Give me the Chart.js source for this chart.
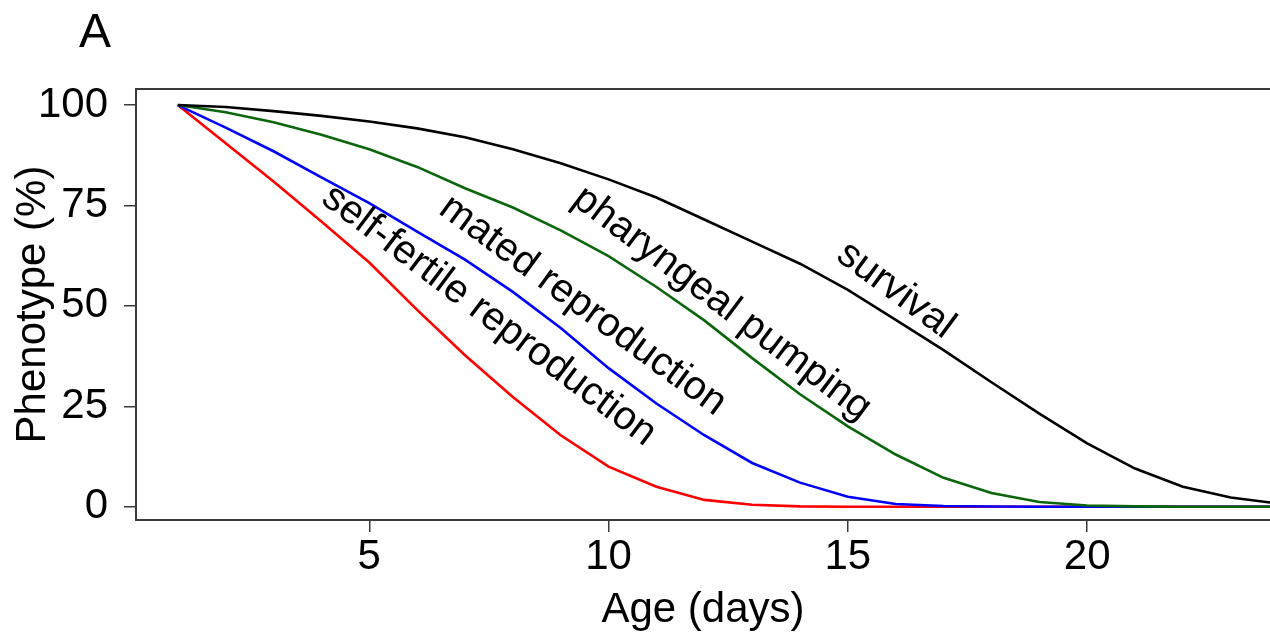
<!DOCTYPE html>
<html>
<head>
<meta charset="utf-8">
<script src="https://cdn.jsdelivr.net/npm/chart.js@4.4.1/dist/chart.umd.min.js"></script>
<style>
  html, body { margin: 0; padding: 0; background: #ffffff; }
  #wrap { width: 1270px; height: 636px; position: relative; }
</style>
</head>
<body>
<div id="wrap"><canvas id="c" width="1270" height="636"></canvas></div>
<script>
// ---- data ----
const days = [1,2,3,4,5,6,7,8,9,10,11,12,13,14,15,16,17,18,19,20,21,22,23,24];
const survival     = [100, 99.5, 98.5, 97.3, 95.9, 94.2, 92.0, 89.0, 85.5, 81.5, 77.0, 71.5, 66.0, 60.5, 54.0, 46.5, 39.0, 31.0, 23.2, 15.8, 9.5, 5.0, 2.3, 0.8];
const pumping      = [100, 98.2, 95.7, 92.6, 89.0, 84.6, 79.3, 74.5, 68.8, 62.4, 54.7, 46.4, 37.0, 28.0, 20.0, 13.0, 7.2, 3.4, 1.2, 0.3, 0.1, 0, 0, 0];
const mated        = [100, 94.4, 88.5, 82.0, 75.6, 68.5, 61.5, 53.5, 44.5, 34.5, 25.7, 17.8, 10.9, 6.0, 2.5, 0.7, 0.2, 0.05, 0, 0, 0, 0, 0, 0];
const selfFertile  = [100, 90.5, 81.0, 71.0, 60.8, 49.0, 37.7, 27.3, 17.8, 10.0, 5.0, 1.7, 0.5, 0.1, 0, 0, 0, 0, 0, 0, 0, 0, 0, 0];
const xTicks = [5, 10, 15, 20];
const yTicks = [0, 25, 50, 75, 100];
const labelTexts = ['survival', 'pharyngeal pumping', 'mated reproduction', 'self-fertile reproduction'];
const labelDays  = [16.0, 12.37, 9.46, 7.5];
const labelVals  = [53.9, 50.6, 50.1, 47.6];
const labelAngles = [36.5, 37, 36.3, 37];

const FONT = "'Liberation Sans', Arial, sans-serif";
const AXIS = '#3a3a3a';

const annotationPlugin = {
  id: 'curveLabels',
  afterDatasetsDraw(chart) {
    const {ctx, scales: {x, y}, chartArea} = chart;
    ctx.save();
    // top border of the plot box
    ctx.strokeStyle = AXIS;
    ctx.lineWidth = 2;
    ctx.beginPath();
    ctx.moveTo(chartArea.left, chartArea.top);
    ctx.lineTo(chartArea.right, chartArea.top);
    ctx.stroke();
    // curve labels
    ctx.fillStyle = '#000';
    ctx.font = '40px ' + FONT;
    ctx.textAlign = 'center';
    ctx.textBaseline = 'middle';
    labelTexts.forEach((t, i) => {
      const px = x.getPixelForValue(labelDays[i]);
      const py = y.getPixelForValue(labelVals[i]);
      ctx.save();
      ctx.translate(px, py);
      ctx.rotate(labelAngles[i] * Math.PI / 180);
      ctx.fillText(t, 0, 0);
      ctx.restore();
    });
    // panel letter
    ctx.font = '48px ' + FONT;
    ctx.textAlign = 'left';
    ctx.textBaseline = 'alphabetic';
    ctx.fillText('A', 79, 47);
    ctx.restore();
  }
};

const mk = (label, data, color) => ({
  label, data: days.map((d, i) => ({x: d, y: data[i]})),
  borderColor: color, backgroundColor: color, borderWidth: 2.6,
  pointRadius: 0, tension: 0, fill: false
});

new Chart(document.getElementById('c'), {
  type: 'line',
  data: {
    datasets: [
      mk('survival', survival, '#000000'),
      mk('pharyngeal pumping', pumping, '#0b650b'),
      mk('mated reproduction', mated, '#0000ff'),
      mk('self-fertile reproduction', selfFertile, '#ff0000')
    ]
  },
  options: {
    responsive: false,
    animation: false,
    devicePixelRatio: 1,
    layout: { padding: { top: 89, right: 0, bottom: 0, left: 0 } },
    plugins: { legend: { display: false }, tooltip: { enabled: false }, title: { display: false } },
    scales: {
      x: {
        type: 'linear', min: 0.126, max: 23.82,
        afterBuildTicks: s => { s.ticks = xTicks.map(v => ({value: v})); },
        afterFit: s => { s.height = 116; },
        grid: { drawOnChartArea: false, drawTicks: true, tickLength: 12, color: AXIS, lineWidth: 1.5 },
        border: { display: true, color: AXIS, width: 2 },
        ticks: { color: '#000', font: { family: FONT, size: 42 }, padding: 0, maxRotation: 0, autoSkip: false },
        title: { display: true, text: 'Age (days)', color: '#000', font: { family: FONT, size: 42 }, padding: { top: 10, bottom: 0 } }
      },
      y: {
        type: 'linear', min: -3.3, max: 104,
        afterBuildTicks: s => { s.ticks = yTicks.map(v => ({value: v})); },
        afterFit: s => { s.width = 136; },
        grid: { drawOnChartArea: false, drawTicks: true, tickLength: 12, color: AXIS, lineWidth: 1.5 },
        border: { display: true, color: AXIS, width: 2 },
        ticks: { color: '#000', font: { family: FONT, size: 42 }, padding: 16, autoSkip: false },
        title: { display: true, text: 'Phenotype (%)', color: '#000', font: { family: FONT, size: 42 }, padding: { top: 8, bottom: 0 } }
      }
    }
  },
  plugins: [annotationPlugin]
});
</script>
</body>
</html>
